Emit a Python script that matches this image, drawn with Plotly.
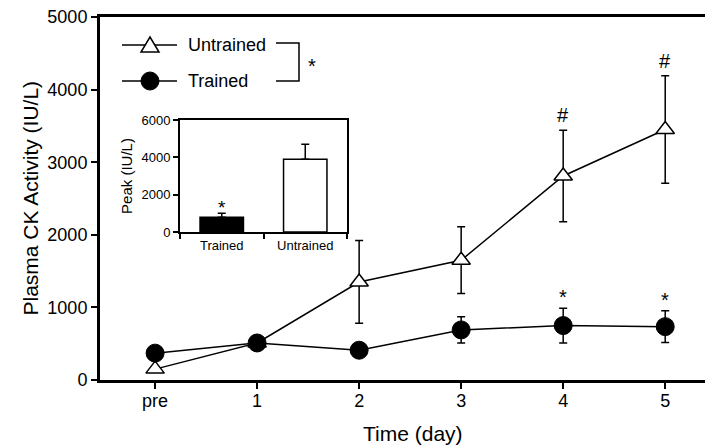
import plotly.graph_objects as go

# ---------------- data ----------------
days = ["pre", "1", "2", "3", "4", "5"]
untrained_mean = [150, 510, 1350, 1650, 2810, 3450]
untrained_sem = [40, 60, 570, 460, 630, 740]
trained_mean = [370, 510, 410, 690, 750, 735]
trained_sem = [30, 70, 50, 180, 240, 220]
untrained_marks = ["", "", "", "", "#", "#"]
trained_marks = ["", "", "", "", "*", "*"]

peak_groups = ["Trained", "Untrained"]
peak_mean = [790, 3900]
peak_sem = [220, 800]
peak_marks = ["*", ""]
peak_colors = ["black", "white"]

main_yticks = [0, 1000, 2000, 3000, 4000, 5000]
inset_yticks = [0, 2000, 4000, 6000]

FONT = "Liberation Sans, Arial, sans-serif"

# plot-area geometry (pixels) used to place layout-only elements
L, R, T, B = 100, 705, 17, 380
def px(p):
    return (p - L) / (R - L)
def py(p):
    return (B - p) / (B - T)

def txt(size):
    return dict(size=size, color="black", family=FONT)

fig = go.Figure()

fig.add_trace(go.Scatter(
    x=days, y=untrained_mean, mode="lines+markers", name="Untrained",
    line=dict(color="black", width=1.5),
    marker=dict(symbol="triangle-up", size=16, color="white",
                line=dict(color="black", width=1.5)),
    error_y=dict(type="data", array=untrained_sem, color="black",
                 thickness=1.5, width=4),
    cliponaxis=False, showlegend=False))

fig.add_trace(go.Scatter(
    x=days, y=trained_mean, mode="lines+markers", name="Trained",
    line=dict(color="black", width=1.5),
    marker=dict(symbol="circle", size=18, color="black",
                line=dict(color="black", width=1)),
    error_y=dict(type="data", array=trained_sem, color="black",
                 thickness=1.5, width=4),
    cliponaxis=False, showlegend=False))

fig.add_trace(go.Bar(
    x=peak_groups, y=peak_mean, xaxis="x2", yaxis="y2", width=0.52,
    marker=dict(color=peak_colors, line=dict(color="black", width=1.5)),
    error_y=dict(type="data", symmetric=False, array=peak_sem,
                 arrayminus=[0] * len(peak_sem), color="black",
                 thickness=1.5, width=4),
    showlegend=False))

annotations = []
for d, m, s, t in zip(days, untrained_mean, untrained_sem, untrained_marks):
    if t:
        annotations.append(dict(x=d, y=m + s, xref="x", yref="y", text=t,
                                showarrow=False, yshift=15,
                                xanchor="center", yanchor="middle",
                                font=txt(20)))
for d, m, s, t in zip(days, trained_mean, trained_sem, trained_marks):
    if t:
        annotations.append(dict(x=d, y=m + s, xref="x", yref="y", text=t,
                                showarrow=False, yshift=11,
                                xanchor="center", yanchor="middle",
                                font=txt(20)))
for g, m, s, t in zip(peak_groups, peak_mean, peak_sem, peak_marks):
    if t:
        annotations.append(dict(x=g, y=m + s, xref="x2", yref="y2", text=t,
                                showarrow=False, yshift=6,
                                xanchor="center", yanchor="middle",
                                font=txt(19)))

# axis titles
annotations.append(dict(x=2.53, y=py(433), xref="x", yref="paper",
                        text="Time (day)", showarrow=False,
                        xanchor="center", yanchor="middle", font=txt(21)))
annotations.append(dict(x=px(30), y=0.5, xref="paper", yref="paper",
                        text="Plasma CK Activity (IU/L)", textangle=-90,
                        showarrow=False, xanchor="center", yanchor="middle",
                        font=txt(21)))

# legend (drawn manually)
leg_rows = [("Untrained", 45), ("Trained", 81)]
shapes = []
for name, yy in leg_rows:
    shapes.append(dict(type="line", xref="paper", yref="paper",
                       x0=px(122), x1=px(177), y0=py(yy), y1=py(yy),
                       line=dict(color="black", width=1.5)))
    annotations.append(dict(x=px(186), y=py(yy), xref="paper", yref="paper",
                            text=name, showarrow=False, xanchor="left",
                            yanchor="middle", font=txt(18)))
shapes.append(dict(type="path", xref="paper", yref="paper",
                   xsizemode="pixel", ysizemode="pixel",
                   xanchor=px(150), yanchor=py(45),
                   path="M-9,-7 L9,-7 L0,8 Z", fillcolor="white",
                   line=dict(color="black", width=1.5)))
shapes.append(dict(type="circle", xref="paper", yref="paper",
                   xsizemode="pixel", ysizemode="pixel",
                   xanchor=px(150), yanchor=py(81),
                   x0=-9, x1=9, y0=-9, y1=9, fillcolor="black",
                   line=dict(color="black", width=1)))
# bracket
shapes.append(dict(type="path", xref="paper", yref="paper",
                   path="M{},{} L{},{} L{},{} L{},{}".format(
                       px(276), py(43), px(299), py(43),
                       px(299), py(81), px(276), py(81)),
                   line=dict(color="black", width=1.5)))
annotations.append(dict(x=px(312), y=py(66), xref="paper", yref="paper",
                        text="*", showarrow=False, xanchor="center",
                        yanchor="middle", font=txt(20)))

fig.update_layout(
    width=705, height=446,
    margin=dict(l=L, r=0, t=T, b=446 - B),
    paper_bgcolor="white", plot_bgcolor="white",
    font=dict(family=FONT, color="black"),
    xaxis=dict(type="category", range=[-0.54, 5.39], domain=[0, 1],
               showline=True, linewidth=3, linecolor="black", mirror=True,
               ticks="outside", ticklen=6, tickwidth=2, tickcolor="black",
               tickfont=txt(18), showgrid=False, zeroline=False,
               ticklabelstandoff=-4),
    yaxis=dict(range=[0, 5000], tickvals=main_yticks, showline=True,
               linewidth=3, linecolor="black", ticks="outside", ticklen=6,
               tickwidth=2, tickcolor="black", tickfont=txt(18),
               showgrid=False, zeroline=False),
    xaxis2=dict(domain=[px(180), px(347)], anchor="y2", type="category",
                range=[-0.5, 1.5], tickson="boundaries", ticks="outside",
                ticklen=5, tickwidth=1.5, tickcolor="black", showline=True,
                linewidth=2, linecolor="black", mirror=True,
                tickfont=txt(13), showgrid=False, zeroline=False),
    yaxis2=dict(domain=[py(232), py(120)], anchor="x2", range=[0, 6000],
                tickvals=inset_yticks, ticks="outside", ticklen=5,
                tickwidth=1.5, tickcolor="black", showline=True, linewidth=2,
                linecolor="black", mirror=True, tickfont=txt(13),
                showgrid=False, zeroline=False,
                title=dict(text="Peak (IU/L)", font=txt(15), standoff=5)),
    annotations=annotations,
    shapes=shapes,
)

fig.write_html("out.html", config={"displayModeBar": False},
               post_script="document.body.style.margin='0px';")
